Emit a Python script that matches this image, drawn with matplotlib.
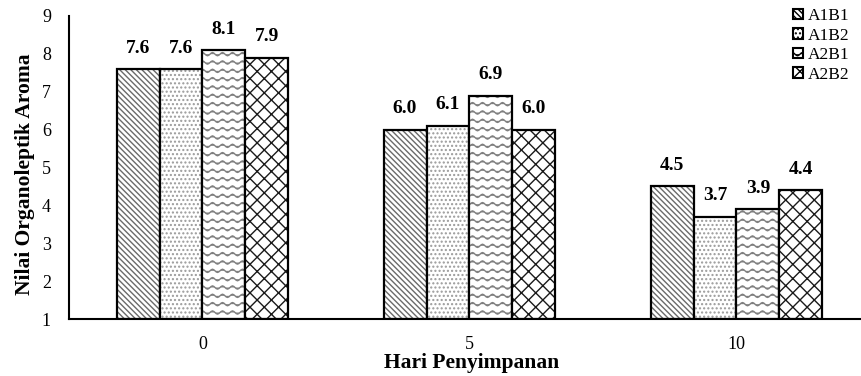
import warnings
import numpy as np
import matplotlib
matplotlib.use('Agg')
import matplotlib.pyplot as plt
import matplotlib.hatch as mhatch
from matplotlib.patches import Patch
from matplotlib.path import Path

days = ['0', '5', '10']
series = ['A1B1', 'A1B2', 'A2B1', 'A2B2']
A1B1 = [7.6, 6.0, 4.5]
A1B2 = [7.6, 6.1, 3.7]
A2B1 = [8.1, 6.9, 3.9]
A2B2 = [7.9, 6.0, 4.4]


# wavy hatch ('~'), matplotlib has none built in
class WaveHatch(mhatch.HatchPatternBase):
    def __init__(self, hatch, density):
        self.num_rows = int(hatch.count('~') * density)
        self.pts = 81
        self.num_vertices = self.num_rows * self.pts

    def set_vertices_and_codes(self, vertices, codes):
        xs = np.linspace(0, 1, self.pts)
        i = 0
        for r in range(self.num_rows):
            y0 = (r + 0.5) / self.num_rows
            ys = y0 + 0.016 * np.sin(2 * np.pi * 10 * xs)
            vertices[i:i + self.pts, 0] = xs
            vertices[i:i + self.pts, 1] = ys
            codes[i] = Path.MOVETO
            codes[i + 1:i + self.pts] = Path.LINETO
            i += self.pts


# diagonal lattice ('k'), tighter than 'x'; line count must stay even to tile
class LatticeHatch(mhatch.HatchPatternBase):
    def __init__(self, hatch, density):
        self.num_lines = hatch.count('k') * 14
        self.num_vertices = (self.num_lines + 1) * 4 if self.num_lines else 0

    def set_vertices_and_codes(self, vertices, codes):
        steps = np.linspace(-0.5, 0.5, self.num_lines + 1)
        n = self.num_lines + 1
        vertices[0:2 * n:2, 0] = 0.0 + steps
        vertices[0:2 * n:2, 1] = 0.0 - steps
        vertices[1:2 * n:2, 0] = 1.0 + steps
        vertices[1:2 * n:2, 1] = 1.0 - steps
        vertices[2 * n::2, 0] = 0.0 + steps
        vertices[2 * n::2, 1] = 1.0 + steps
        vertices[2 * n + 1::2, 0] = 1.0 + steps
        vertices[2 * n + 1::2, 1] = 0.0 + steps
        codes[0::2] = Path.MOVETO
        codes[1::2] = Path.LINETO


mhatch._hatch_types.extend([WaveHatch, LatticeHatch])
warnings.filterwarnings('ignore')

plt.rcParams['font.family'] = ['Liberation Serif', 'DejaVu Serif']
plt.rcParams['hatch.linewidth'] = 1.0

fig = plt.figure(figsize=(8.61, 3.76), dpi=100)
ax = fig.add_axes([69 / 861, 57 / 376, 801 / 861, 303 / 376])

x = np.arange(len(days))
w = 0.161
data = [A1B1, A1B2, A2B1, A2B2]
hatches = ['\\' * 6, '....', '~~', 'k']
hcolors = ['#6a6a6a', '#9a9a9a', '#808080', '#1a1a1a']

for i, vals in enumerate(data):
    pos = x + (i - 1.5) * w
    # hatch layer (hatch takes the edge colour) then black outline on top
    ax.bar(pos, np.array(vals) - 1, w, bottom=1, color='white',
           edgecolor=hcolors[i], hatch=hatches[i], linewidth=0)
    ax.bar(pos, np.array(vals) - 1, w, bottom=1, fill=False,
           edgecolor='black', linewidth=1.6)
    for p, v in zip(pos, vals):
        ax.annotate(f'{v:.1f}', (p, v), xytext=(0, 9), textcoords='offset points',
                    ha='center', va='bottom', fontsize=14, fontweight='bold')

ax.set_xlim(-0.5, 2.5)
ax.set_ylim(1, 9)
ax.set_yticks(range(1, 10))
ax.set_xticks(x)
ax.set_xticklabels(days)
ax.tick_params(length=0, labelsize=13)
ax.tick_params(axis='x', pad=12)
ax.tick_params(axis='y', pad=13)
for s in ['top', 'right']:
    ax.spines[s].set_visible(False)
for s in ['left', 'bottom']:
    ax.spines[s].set_linewidth(1.5)

ax.set_ylabel('Nilai Organoleptik Aroma', fontsize=15.5, fontweight='bold')
ax.yaxis.set_label_coords(-0.0424, 0.4785)
fig.text(472 / 861, 1 - 363 / 376, 'Hari Penyimpanan', ha='center', va='center',
         fontsize=15.5, fontweight='bold')

handles = [Patch(facecolor='white', edgecolor='black', hatch=h, linewidth=1.5)
           for h in hatches]
fig.legend(handles, series, loc='upper right', bbox_to_anchor=(1.001, 1.01),
           frameon=False, fontsize=12.5, handlelength=0.55, handleheight=0.55,
           handletextpad=0.3, labelspacing=0.2, borderpad=0.2)

fig.savefig('out.png', dpi=100)
